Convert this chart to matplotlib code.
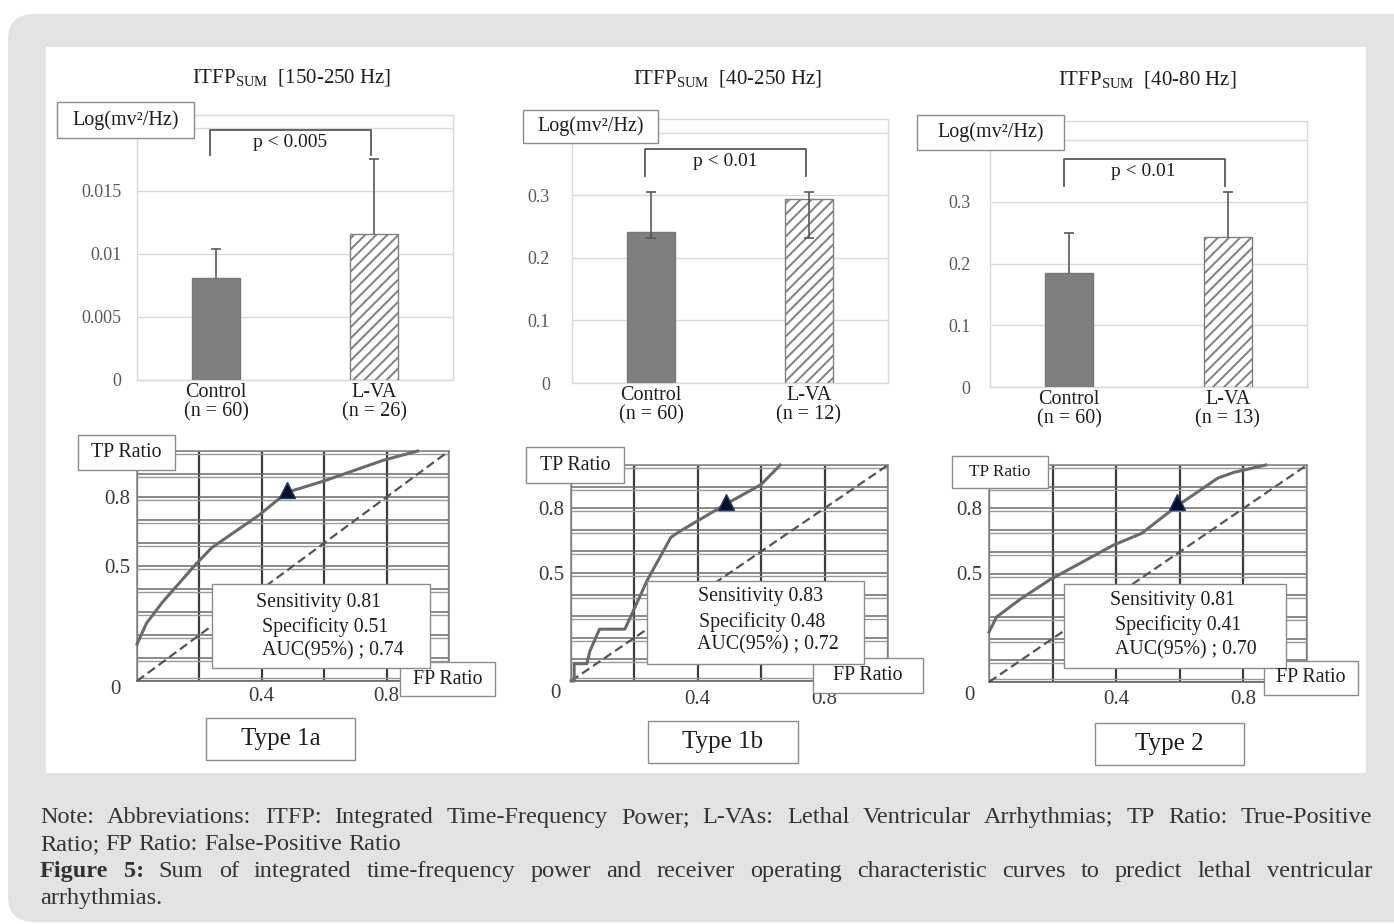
import matplotlib
matplotlib.use('Agg')
import matplotlib.pyplot as plt
from matplotlib.patches import Rectangle, FancyBboxPatch
import matplotlib.transforms as mtransforms
import numpy as np

W, H = 1394, 924
plt.rcParams['font.family'] = ['Liberation Serif', 'DejaVu Serif']
plt.rcParams['mathtext.fontset'] = 'custom'
plt.rcParams['mathtext.rm'] = 'Liberation Serif'
plt.rcParams['hatch.linewidth'] = 1.4

# ---------------- data ----------------
groups = ['Control', 'L-VA']
group_n = [[60, 26], [60, 12], [60, 13]]
bands = ['150-250 Hz', '40-250 Hz', '40-80 Hz']
bar_means = [[0.0081, 0.0116], [0.242, 0.294], [0.185, 0.243]]
err_high = [[0.0104, 0.0175], [0.306, 0.306], [0.250, 0.316]]
err_low = [[0.0081, 0.0116], [0.232, 0.232], [0.185, 0.243]]
p_texts = ['p < 0.005', 'p < 0.01', 'p < 0.01']
bracket_top = [0.0198, 0.374, 0.3695]
bracket_foot = [0.0178, 0.331, 0.326]
y_ticks = [[0, 0.005, 0.01, 0.015, 0.02], [0, 0.1, 0.2, 0.3, 0.4], [0, 0.1, 0.2, 0.3, 0.4]]
y_ticklabels = [['0', '0.005', '0.01', '0.015', ''], ['0', '0.1', '0.2', '0.3', ''],
                ['0', '0.1', '0.2', '0.3', '']]
y_max = [0.021, 0.422, 0.431]

roc_names = ['Type 1a', 'Type 1b', 'Type 2']
roc_fpr = [
    [0, 0.03, 0.08, 0.19, 0.24, 0.39, 0.48, 0.60, 0.79, 0.90],
    [0, 0.01, 0.01, 0.05, 0.06, 0.09, 0.17, 0.195, 0.24, 0.315, 0.34, 0.49, 0.60, 0.66],
    [0, 0.024, 0.097, 0.19, 0.39, 0.48, 0.59, 0.72, 0.77, 0.87],
]
roc_tpr = [
    [0.16, 0.25, 0.34, 0.51, 0.58, 0.72, 0.82, 0.87, 0.96, 1.0],
    [0, 0, 0.08, 0.08, 0.14, 0.24, 0.24, 0.32, 0.465, 0.665, 0.69, 0.82, 0.91, 1.0],
    [0.23, 0.30, 0.38, 0.47, 0.63, 0.685, 0.81, 0.94, 0.966, 1.0],
]
cut_fpr = [0.48, 0.49, 0.59]
cut_tpr = [0.83, 0.83, 0.83]
sensitivity = ['0.81', '0.83', '0.81']
specificity = ['0.51', '0.48', '0.41']
auc = ['0.74', '0.72', '0.70']

# ---------------- layout (pixels) ----------------
fig = plt.figure(figsize=(W / 100, H / 100), dpi=100)
fig.patch.set_facecolor('white')


def add_ax(x0, y0, x1, y1, **kw):
    return fig.add_axes([x0 / W, 1 - y1 / H, (x1 - x0) / W, (y1 - y0) / H], **kw)


bg = add_ax(0, 0, W, H, zorder=-10)
bg.set_xlim(0, W); bg.set_ylim(H, 0); bg.axis('off')
bg.add_patch(FancyBboxPatch((8, 14), 1420, 908, boxstyle='round,pad=0,rounding_size=26',
                            facecolor='#e3e3e3', edgecolor='none'))
bg.add_patch(Rectangle((46, 47), 1320, 726, facecolor='white', edgecolor='none'))

ov = add_ax(0, 0, W, H, zorder=20)
ov.set_xlim(0, W); ov.set_ylim(H, 0); ov.axis('off')
ov.patch.set_alpha(0)

TXT = '#1e1e1e'


def box(x0, y0, x1, y1, text=None, fs=14.3):
    ov.add_patch(Rectangle((x0, y0), x1 - x0, y1 - y0, facecolor='white',
                           edgecolor='#8c8c8c', lw=1.0))
    if text:
        ov.text((x0 + x1) / 2, (y0 + y1) / 2, text, fontsize=fs, color=TXT,
                ha='center', va='center')


bar_axes_px = [(137, 115, 453, 380), (572, 119, 888, 383), (990, 121, 1307, 387)]
title_pos = [(292, 78), (727, 79), (1147, 80)]
log_box = [(57, 102, 194, 138), (523, 110, 658, 143), (917, 115, 1064, 150)]
ytick_pad = [11, 16, 14]

for i in range(3):
    ax = add_ax(*bar_axes_px[i])
    x = np.arange(len(groups))
    ax.bar(x[0], bar_means[i][0], width=0.3, color='#7f7f7f', edgecolor='#767676', lw=1, zorder=3)
    ax.bar(x[1], bar_means[i][1], width=0.3, facecolor='white', edgecolor='#808080',
           hatch='///', lw=1, zorder=3)
    lo = np.array(bar_means[i]) - np.array(err_low[i])
    hi = np.array(err_high[i]) - np.array(bar_means[i])
    eb = ax.errorbar(x, bar_means[i], yerr=[lo, hi], fmt='none', ecolor='#595959',
                     elinewidth=1.2, capsize=3.5, capthick=1.2, zorder=4)
    if np.all(lo == 0):
        eb[1][0].set_visible(False)
    ax.set_xlim(-0.5, 1.5)
    ax.set_ylim(0, y_max[i])
    ax.set_yticks(y_ticks[i])
    ax.set_yticklabels(y_ticklabels[i])
    ax.yaxis.grid(True, color='#d9d9d9', lw=1.0, zorder=0)
    ax.set_axisbelow(True)
    for s in ax.spines.values():
        s.set_color('#d9d9d9'); s.set_linewidth(1.0)
    ax.tick_params(axis='y', length=0, labelsize=13, labelcolor='#595959', pad=ytick_pad[i])
    ax.set_xticks(x)
    ax.set_xticklabels([f'{g}\n(n = {n})' for g, n in zip(groups, group_n[i])])
    ax.tick_params(axis='x', length=0, labelsize=14.5, labelcolor=TXT, pad=2.5)
    for lab in ax.get_xticklabels():
        lab.set_linespacing(0.95)
    # significance bracket
    bx = [-0.035, -0.035, 0.98, 0.98]
    by = [bracket_foot[i], bracket_top[i], bracket_top[i], bracket_foot[i]]
    ax.plot(bx, by, color='#595959', lw=1.3, zorder=5, clip_on=False)
    ax.annotate(p_texts[i], xy=(0.47, bracket_top[i]), xytext=(0, -3),
                textcoords='offset points', ha='center', va='top', fontsize=14, color=TXT)
    ov.text(*title_pos[i], r'ITFP$_{\rm SUM}$  [' + bands[i] + ']', fontsize=15, color=TXT,
            ha='center', va='center')
    box(*log_box[i], 'Log(mv²/Hz)', fs=14.5)

# ---------------- ROC panels ----------------
roc_axes_px = [(137, 451, 449, 681), (571, 465, 888, 681), (989, 465, 1307, 682)]
tp_box = [(78, 435, 175, 470), (526, 447, 624, 483), (952, 456, 1048, 488)]
tp_fs = [14.3, 14.3, 12.4]
fp_box = [(400, 662, 495, 696), (813, 658, 923, 693), (1264, 661, 1358, 695)]
info_box = [(212, 584, 430, 668), (647, 581, 864, 664), (1064, 584, 1286, 668)]
info_lines_xy = [
    [(319, 602), (325, 627), (333, 651)],
    [(760, 597), (762, 622), (768, 645)],
    [(1172, 601), (1178, 625), (1186, 650)],
]
type_box = [(206, 718, 355, 760), (648, 721, 798, 763), (1095, 723, 1244, 765)]
zero_pos = [(115, 690), (555, 693), (969, 695)]
xpad = [4.5, 6.5, 5.5]
GRID_C = '#6a6a6a'

for i in range(3):
    ax = add_ax(*roc_axes_px[i])
    ax.set_xlim(0, 1); ax.set_ylim(0, 1)
    yt = np.round(np.arange(0, 1.01, 0.1), 1)
    ax.set_yticks(yt)
    ax.set_yticklabels(['0.5' if v == 0.5 else '0.8' if v == 0.8 else '' for v in yt])
    xt = np.round(np.arange(0, 1.01, 0.2), 1)
    ax.set_xticks(xt)
    ax.set_xticklabels(['0.4' if v == 0.4 else '0.8' if v == 0.8 else '' for v in xt])
    # double horizontal rules
    ax.yaxis.grid(True, color=GRID_C, lw=1.1)
    shifted = mtransforms.offset_copy(ax.get_yaxis_transform(), fig=fig, x=0, y=-3, units='dots')
    for v in yt[1:]:
        ax.plot([0, 1], [v, v], transform=shifted, color='#9a9a9a', lw=1.0, zorder=0.6)
    ax.plot([0, 1], [0, 0], transform=mtransforms.offset_copy(ax.get_yaxis_transform(), fig=fig,
            x=0, y=3, units='dots'), color='#9a9a9a', lw=1.0, zorder=0.6)
    ax.xaxis.grid(True, color='#3c3c3c', lw=1.6)
    ax.set_axisbelow(True)
    for s in ax.spines.values():
        s.set_color('#8a8a8a'); s.set_linewidth(1.2)
    ax.spines['bottom'].set_color(GRID_C); ax.spines['bottom'].set_linewidth(1.2)
    ax.tick_params(length=0, labelsize=15, labelcolor='#3a3a3a')
    ax.tick_params(axis='y', pad=5)
    ax.tick_params(axis='x', pad=xpad[i])
    ax.plot([0, 1], [0, 1], color='#555555', lw=1.6, ls=(0, (4, 2)), zorder=3)
    ax.plot(roc_fpr[i], roc_tpr[i], color='#6a6a6a', lw=2.2, zorder=4, clip_on=False)
    ax.plot(cut_fpr[i], cut_tpr[i], marker='^', ms=12, color='#0d0d26',
            markeredgecolor='#1f3a6e', mew=1.0, zorder=6, ls='none')
    box(*tp_box[i], 'TP Ratio', fs=tp_fs[i])
    box(*fp_box[i], 'FP Ratio', fs=14.3)
    box(*info_box[i])
    lines = [f'Sensitivity {sensitivity[i]}', f'Specificity {specificity[i]}',
             f'AUC(95%) ; {auc[i]}']
    for (tx, ty), s in zip(info_lines_xy[i], lines):
        ov.text(tx, ty, s, fontsize=14.3, color=TXT, ha='center', va='center')
    box(*type_box[i], roc_names[i], fs=18)
    ov.text(*zero_pos[i], '0', fontsize=15, color='#3a3a3a', ha='center', va='center')

# ---------------- caption ----------------
renderer = fig.canvas.get_renderer()
NOTE_C = '#333333'
NFS = 17.5


def justify(segments, x0, x1, y, justify_it=True):
    texts, widths = [], []
    for w, wt in segments:
        t = ov.text(0, y, w, fontsize=NFS, fontweight=wt, color=NOTE_C, ha='left', va='baseline')
        widths.append(t.get_window_extent(renderer).width)
        texts.append(t)
    if justify_it:
        gap = (x1 - x0 - sum(widths)) / (len(segments) - 1)
    else:
        gap = 0.25 * NFS * 100 / 72
    xx = x0
    for t, wd in zip(texts, widths):
        t.set_x(xx)
        xx += wd + gap


line1 = ('Note: Abbreviations: ITFP: Integrated Time-Frequency Power; L-VAs: Lethal '
         'Ventricular Arrhythmias; TP Ratio: True-Positive').split()
line2 = 'Ratio; FP Ratio: False-Positive Ratio'.split()
line3b = ('Sum of integrated time-frequency power and receiver operating characteristic '
          'curves to predict lethal ventricular').split()
justify([(w, 'normal') for w in line1], 40, 1372, 823)
justify([(w, 'normal') for w in line2], 40, 1372, 850, justify_it=False)
justify([('Figure', 'bold'), ('5:', 'bold')] + [(w, 'normal') for w in line3b], 40, 1372, 877)
justify([('arrhythmias.', 'normal')], 40, 1372, 904, justify_it=False)

fig.savefig('out.png', dpi=100)
